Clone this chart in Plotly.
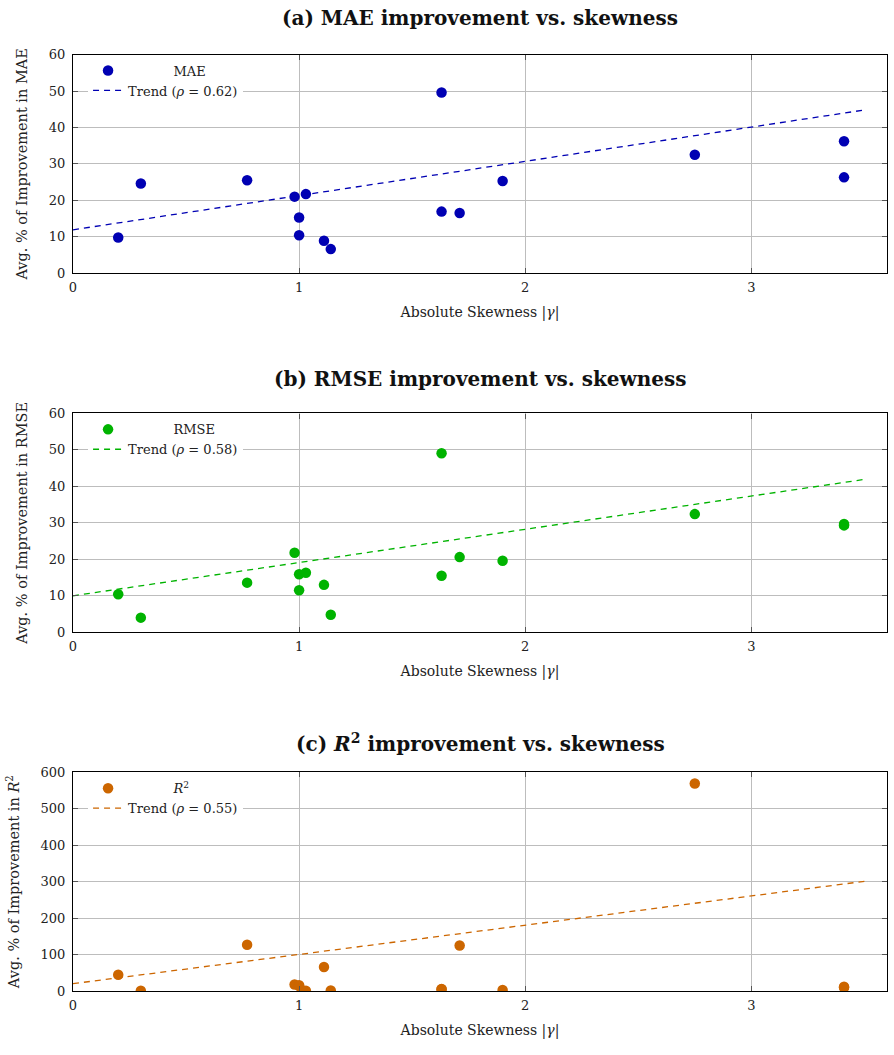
import plotly.graph_objects as go

# ---- data ----
skew = [0.2, 0.3, 0.77, 0.98, 1.0, 1.0, 1.03, 1.11, 1.14, 1.63, 1.63, 1.71, 1.9, 2.75, 3.41, 3.41]
mae_impr = [9.8, 24.6, 25.5, 21.0, 15.3, 10.4, 21.7, 8.9, 6.6, 49.6, 16.9, 16.5, 25.3, 32.5, 36.2, 26.3]
rmse_impr = [10.4, 4.0, 13.6, 21.8, 15.9, 11.5, 16.3, 13.0, 4.8, 49.1, 15.5, 20.6, 19.6, 32.4, 29.3, 29.7]
r2_impr = [45, 1, 127, 18, 16, 14, 1, 66, 2, 6, 5, 125, 3, 569, 12, 10]

trend_x = [0.0, 3.5]
trend_mae = [11.9, 44.8]
trend_rmse = [10.0, 41.9]
trend_r2 = [20.5, 301.0]

rho_mae, rho_rmse, rho_r2 = 0.62, 0.58, 0.55
x_ticks = [0, 1, 2, 3]

FONT = "DejaVu Serif"
BLUE, GREEN, ORANGE = "#0000B3", "#00B300", "#CC6600"
NB = "\u00a0"
H = 1055.0

panels = [
    dict(y=mae_impr, tr=trend_mae, rho=rho_mae, color=BLUE, name="MAE",
         title="<b>(a) MAE improvement vs. skewness</b>",
         ylab="Avg. % of Improvement in MAE", yr=[0, 60], dt=10,
         dom=[0.7441, 0.9542], ty=1 - 11 / H),
    dict(y=rmse_impr, tr=trend_rmse, rho=rho_rmse, color=GREEN, name="RMSE",
         title="<b>(b) RMSE improvement vs. skewness</b>",
         ylab="Avg. % of Improvement in RMSE", yr=[0, 60], dt=10,
         dom=[0.3988, 0.6092], ty=1 - 377 / H),
    dict(y=r2_impr, tr=trend_r2, rho=rho_r2, color=ORANGE, name="<i>R</i><sup>2</sup>",
         title="<b>(c) <i>R</i><sup>2</sup> improvement vs. skewness</b>",
         ylab="Avg. % of Improvement in <i>R</i><sup>2</sup>", yr=[0, 600], dt=100,
         dom=[0.0537, 0.2642], ty=1 - 747 / H),
]

fig = go.Figure()
layout = dict(
    width=894, height=1055,
    margin=dict(l=73, r=7, t=0, b=0),
    paper_bgcolor="white", plot_bgcolor="white",
    font=dict(family=FONT, size=13, color="#222"),
    showlegend=True,
    annotations=[],
)

for i, p in enumerate(panels):
    k = "" if i == 0 else str(i + 1)
    leg = "legend" + k
    fig.add_trace(go.Scatter(
        x=skew, y=p["y"], mode="markers", name=NB * 11 + p["name"],
        marker=dict(color=p["color"], size=10.5, line=dict(width=0)),
        xaxis="x" + k, yaxis="y" + k, legend=leg))
    fig.add_trace(go.Scatter(
        x=trend_x, y=p["tr"], mode="lines",
        name="Trend (<i>ρ</i> = %.2f)" % p["rho"],
        line=dict(color=p["color"], width=1.3, dash="6px,5px"),
        xaxis="x" + k, yaxis="y" + k, legend=leg))
    layout["xaxis" + k] = dict(
        domain=[0, 1], anchor="y" + k, range=[0, 3.6], tickvals=x_ticks,
        showgrid=True, gridcolor="#bdbdbd", gridwidth=1, zeroline=False,
        showline=True, linecolor="black", linewidth=1.2, mirror="ticks",
        ticks="inside", ticklen=5, tickcolor="#555", ticklabelstandoff=2,
        tickfont=dict(size=13, family=FONT, color="#222"),
        title=dict(text="Absolute Skewness |<i>γ</i>|", standoff=13,
                   font=dict(size=14, family=FONT, color="#222")))
    layout["yaxis" + k] = dict(
        domain=p["dom"], anchor="x" + k, range=p["yr"], dtick=p["dt"],
        showgrid=True, gridcolor="#bdbdbd", gridwidth=1, zeroline=False,
        showline=True, linecolor="black", linewidth=1.2, mirror="ticks",
        ticks="inside", ticklen=5, tickcolor="#555", ticklabelstandoff=4,
        tickfont=dict(size=13, family=FONT, color="#222"),
        title=dict(text=p["ylab"], standoff=17,
                   font=dict(size=14.5, family=FONT, color="#222")))
    layout[leg] = dict(
        x=0.0185, y=p["dom"][1] - 1 / H, xanchor="left", yanchor="top",
        bgcolor="white", borderwidth=0,
        font=dict(size=13, family=FONT, color="#222"),
        tracegroupgap=0)
    layout["annotations"].append(dict(
        text=p["title"], x=0.5, y=p["ty"], xref="paper", yref="paper",
        xanchor="center", yanchor="middle", showarrow=False,
        font=dict(size=20, family=FONT, color="#111")))

fig.update_layout(**layout)
fig.write_html("out.html")
